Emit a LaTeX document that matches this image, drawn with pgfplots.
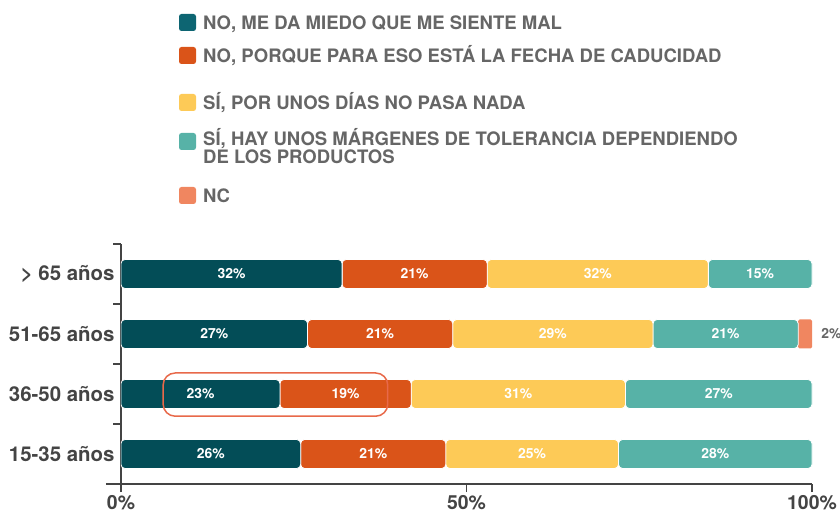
\documentclass[border=0pt]{standalone}
\usepackage{fontspec}
\setmainfont{TeX Gyre Heros}
\usepackage{pgfplots}
\pgfplotsset{compat=1.18}
\definecolor{c1}{HTML}{034D57}
\definecolor{c2}{HTML}{DA5419}
\definecolor{c3}{HTML}{FDCA57}
\definecolor{c4}{HTML}{57B2A7}
\definecolor{c5}{HTML}{F08660}
\definecolor{leg1}{HTML}{0D6572}
\definecolor{axisgray}{HTML}{444444}
\definecolor{leggray}{HTML}{666666}
\definecolor{ovalc}{HTML}{E8694A}
\begin{document}
\begin{tikzpicture}
\useasboundingbox (-121bp,-29bp) rectangle (719bp,484bp);
\begin{axis}[
  at={(0,0)}, anchor=south west,
  scale only axis, width=691bp, height=240bp,
  xmin=0, xmax=100, ymin=-0.5, ymax=3.5,
  xbar stacked, bar width=29bp,
  axis x line=bottom, axis y line=left,
  axis line style={-, draw=axisgray, line width=1.3bp},
  tick align=outside,
  major tick length=8bp,
  tick style={draw=axisgray, line width=1.3bp},
  xtick={0,50,100}, xticklabels={0\%,50\%,100\%},
  ytick={-0.5,0.5,1.5,2.5,3.5}, yticklabels={},
  extra y ticks={0,1,2,3},
  extra y tick labels={15-35 años,36-50 años,51-65 años,> 65 años},
  extra y tick style={major tick length=0pt, tick style={draw=none}, yticklabel style={xshift=-3bp}},
  yticklabel style={font=\fontsize{20.5}{20.5}\selectfont\bfseries, text=axisgray},
  xticklabel style={font=\fontsize{19.5}{19.5}\selectfont\bfseries, text=axisgray, yshift=-2.5bp, inner sep=1bp},
  /pgf/number format/assume math mode=true,
]
\addplot[fill=c1, draw=white, line width=0.8bp, rounded corners=4bp] coordinates {(26,0) (23,1) (27,2) (32,3)};
\addplot[fill=c2, draw=white, line width=0.8bp, rounded corners=4bp] coordinates {(21,0) (19,1) (21,2) (21,3)};
\addplot[fill=c3, draw=white, line width=0.8bp, rounded corners=4bp] coordinates {(25,0) (31,1) (29,2) (32,3)};
\addplot[fill=c4, draw=white, line width=0.8bp, rounded corners=4bp] coordinates {(28,0) (27,1) (21,2) (15,3)};
\addplot[fill=c5, draw=none, rounded corners=1.5bp] coordinates {(0,0) (0,1) (2,2) (0,3)};
\end{axis}
\begin{axis}[
  at={(0,0)}, anchor=south west,
  scale only axis, width=691bp, height=240bp,
  xmin=0, xmax=100, ymin=-0.5, ymax=3.5,
  hide axis, clip=false,
  /pgf/number format/assume math mode=true,
]
\addplot[draw=none, mark=none, point meta=explicit,
  nodes near coords={\pgfmathprintnumber{\pgfplotspointmeta}\%},
  every node near coord/.append style={anchor=center, text=white, font=\fontsize{14}{14}\selectfont\bfseries}]
  table[meta=v] {
x y v
13 0 26
36.5 0 21
59.5 0 25
86 0 28
11.5 1 23
32.5 1 19
57.5 1 31
86.5 1 27
13.5 2 27
37.5 2 21
62.5 2 29
87.5 2 21
16 3 32
42.5 3 21
69 3 32
92.5 3 15
};
\addplot[draw=none, mark=none, point meta=explicit,
  nodes near coords={\pgfmathprintnumber{\pgfplotspointmeta}\%},
  every node near coord/.append style={anchor=center, text=leggray, font=\fontsize{14}{14}\selectfont\bfseries}]
  table[meta=v] {
x y v
102.8 2 2
};
\draw[ovalc, line width=1.5bp, rounded corners=12bp] (axis cs:6.1,1.35) rectangle (axis cs:38.6,0.63);
\end{axis}
\draw[axisgray, line width=1.3bp] (-15bp,0) -- (0,0);
% legend
\begin{scope}[every node/.style={anchor=base west, inner sep=0pt, text=leggray, font=\fontsize{18.6}{18.6}\selectfont\bfseries}]
\fill[leg1, rounded corners=2.5bp] (58bp,453bp) rectangle (75bp,470bp);
\node at (82bp,454.7bp) {NO, ME DA MIEDO QUE ME SIENTE MAL};
\fill[c2, rounded corners=2.5bp] (58bp,420bp) rectangle (75bp,437bp);
\node at (82bp,421bp) {NO, PORQUE PARA ESO ESTÁ LA FECHA DE CADUCIDAD};
\fill[c3, rounded corners=2.5bp] (58bp,373bp) rectangle (75bp,390bp);
\node at (82bp,374.5bp) {SÍ, POR UNOS DÍAS NO PASA NADA};
\fill[c4, rounded corners=2.5bp] (58bp,334bp) rectangle (75bp,351bp);
\node at (82bp,338bp) {SÍ, HAY UNOS MÁRGENES DE TOLERANCIA DEPENDIENDO};
\node at (82bp,320.5bp) {DE LOS PRODUCTOS};
\fill[c5, rounded corners=2.5bp] (58bp,280bp) rectangle (75bp,297bp);
\node at (82bp,281bp) {NC};
\end{scope}
\end{tikzpicture}
\end{document}
